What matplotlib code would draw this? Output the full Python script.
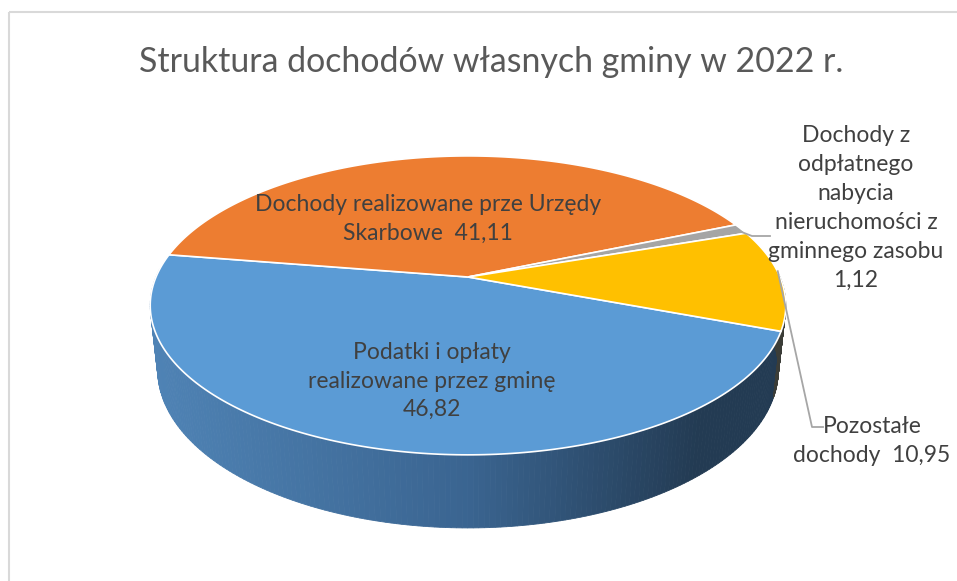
import numpy as np
import matplotlib.pyplot as plt
from matplotlib.patches import Polygon, Rectangle
from matplotlib.colors import to_rgb

# data
title = 'Struktura dochodów własnych gminy w 2022 r.'
categories = ['Podatki i opłaty\nrealizowane przez gminę',
              'Dochody realizowane prze Urzędy\nSkarbowe',
              'Dochody z\nodpłatnego\nnabycia\nnieruchomości z\ngminnego zasobu',
              'Pozostałe\ndochody']
values = [46.82, 41.11, 1.12, 10.95]
value_text = ['46,82', '41,11', '1,12', '10,95']
joiners = ['\n', '  ', '\n', '  ']
colors = ['#5b9bd5', '#ed7d31', '#a5a5a5', '#ffc000']

plt.rcParams['font.family'] = ['Lato', 'DejaVu Sans']

# view of the tilted disc (fitted to the picture)
elev = np.radians(27.5)
dist = 4.67
rad_px = 312
cx, cy = 468, 277
depth = 0.235
start = 339.4   # first slice starts here and goes clockwise


def proj(x, y, z=0.0):
    v = y * np.sin(elev) + z * np.cos(elev)
    w = -y * np.cos(elev) + z * np.sin(elev)
    s = dist / (dist - w)
    return cx + rad_px * x * s, cy - rad_px * v * s


fig = plt.figure(figsize=(9.57, 5.81), dpi=100)
ax = fig.add_axes([0, 0, 1, 1])
ax.set_xlim(0, 957)
ax.set_ylim(581, 0)
ax.axis('off')

# chart border (cut off at right/bottom in the screenshot)
ax.add_patch(Rectangle((9, 12), 1200, 800, fill=False, ec='#d9d9d9', lw=1.5))

bounds = start - np.concatenate([[0], np.cumsum(values)]) * 3.6

# side wall shading of the big slice
side_x = [149, 470, 700]
side_c = [to_rgb('#4f83b5'), to_rgb('#3a6490'), to_rgb('#233b53')]


def side_color(i, xpix):
    if i == 0:
        return tuple(np.interp(xpix, side_x, [c[k] for c in side_c]) for k in range(3))
    return to_rgb('#3b3d38')


for i in range(len(values)):
    t = np.radians(np.linspace(bounds[i], bounds[i + 1], 200))
    for j in range(len(t) - 1):
        tm = 0.5 * (t[j] + t[j + 1])
        if np.sin(tm) > 0.05:
            continue
        ts = np.array([t[j], t[j + 1]])
        xt, yt = proj(np.cos(ts), np.sin(ts))
        xb, yb = proj(np.cos(ts), np.sin(ts), -depth)
        poly = np.column_stack([np.r_[xt, xb[::-1]], np.r_[yt, yb[::-1]]])
        col = side_color(i, xt.mean())
        ax.add_patch(Polygon(poly, closed=True, fc=col, ec=col, lw=0.6))

# top faces
for i in range(len(values)):
    t = np.radians(np.linspace(bounds[i], bounds[i + 1], 200))
    xs, ys = proj(np.cos(t), np.sin(t))
    poly = np.column_stack([np.r_[cx, xs], np.r_[cy, ys]])
    ax.add_patch(Polygon(poly, closed=True, fc=colors[i], ec='white', lw=1.2))

# leader lines for the two outside labels
mid = np.radians((bounds[2] + bounds[3]) / 2)
x0, y0 = proj(0.98 * np.cos(mid), 0.98 * np.sin(mid))
ax.plot([x0, 752, 770], [y0, 236, 236], color='#a6a6a6', lw=1.3)
mid = np.radians((bounds[3] + bounds[4]) / 2)
x0, y0 = proj(0.99 * np.cos(mid), 0.99 * np.sin(mid))
ax.plot([x0, 812, 823], [y0 - 8, 427, 427], color='#a6a6a6', lw=1.3)

# labels
label_xy = [(432, 381), (428, 219), (856, 208), (872, 441)]
for i in range(len(values)):
    ax.text(label_xy[i][0], label_xy[i][1], categories[i] + joiners[i] + value_text[i],
            ha='center', va='center', fontsize=16.5, color='#404040', linespacing=1.46)

ax.text(491, 62, title, ha='center', va='center', fontsize=24.4, color='#595959')

plt.savefig('out.png', dpi=100)
